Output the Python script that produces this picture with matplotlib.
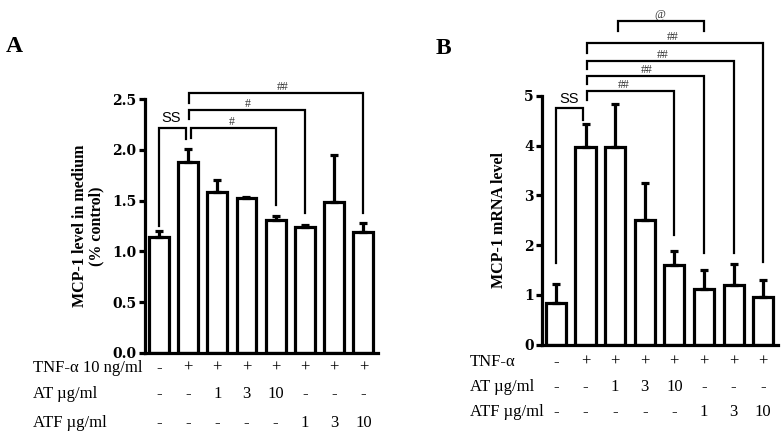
import numpy as np
import matplotlib as mpl
mpl.use("Agg")
from matplotlib import pyplot as plt
from matplotlib.transforms import blended_transform_factory

# 数据
mcp_protein = [1.14, 1.88, 1.58, 1.53, 1.31, 1.24, 1.49, 1.19]
mcp_protein_err = [0.06, 0.13, 0.12, 0.01, 0.04, 0.02, 0.46, 0.09]
mcp_mrna = [0.83, 3.98, 3.98, 2.51, 1.60, 1.11, 1.19, 0.96]
mcp_mrna_err = [0.39, 0.46, 0.86, 0.74, 0.29, 0.38, 0.43, 0.33]

tnf_row = ["-", "+", "+", "+", "+", "+", "+", "+"]
at_row = ["-", "-", "1", "3", "10", "-", "-", "-"]
atf_row = ["-", "-", "-", "-", "-", "1", "3", "10"]

# 显著性标记 (x1, x2, 顶部, 左腿底, 右腿底, 文本, 文本x)
marks_a = [
    (0, 0.92, 2.22, 1.25, 2.11, "SS", 0.41),
    (1.09, 4, 2.22, 2.12, 1.46, "#", 2.5),
    (1.02, 5, 2.39, 2.30, 1.38, "#", 3.06),
    (1.02, 7, 2.56, 2.46, 1.38, "##", 4.25),
]
marks_b = [
    (0, 0.92, 4.75, 1.64, 4.51, "SS", 0.44),
    (1.05, 4, 5.10, 4.91, 2.20, "##", 2.28),
    (1.05, 5, 5.41, 5.25, 1.84, "##", 3.06),
    (1.05, 6, 5.71, 5.55, 1.84, "##", 3.6),
    (1.05, 7, 6.06, 5.87, 1.67, "##", 3.95),
    (2.1, 5, 6.50, 6.31, 6.31, "@", 3.5),
]

SERIF = "Liberation Serif"
W, H = 782, 434


def panel(ax, vals, errs, marks, ymax, step, ylabel, ylab_size, pad):
    x = np.arange(len(vals))
    ax.bar(x, vals, width=0.68, color="white", edgecolor="black", linewidth=2.3, zorder=2)
    ax.errorbar(x, vals, yerr=[np.zeros(len(errs)), errs], fmt="none", ecolor="black",
                elinewidth=2.3, capsize=3.2, capthick=2.3, zorder=3)
    ax.set_xlim(-0.47, 7.5)
    ax.set_ylim(0, ymax)
    ticks = np.arange(0, ymax + step / 2, step)
    ax.set_yticks(ticks)
    if step < 1:
        ax.set_yticklabels(["%.1f" % v for v in ticks])
    ax.set_xticks([])
    for s in ["top", "right"]:
        ax.spines[s].set_visible(False)
    for s in ["left", "bottom"]:
        ax.spines[s].set_linewidth(2.3)
    ax.tick_params(axis="y", direction="out", length=4, width=2.3, pad=2)
    for t in ax.get_yticklabels():
        t.set_fontfamily("DejaVu Serif")
        t.set_fontweight("bold")
        t.set_fontsize(10)
    ax.set_ylabel(ylabel, fontfamily=SERIF, fontweight="bold", fontsize=ylab_size,
                  labelpad=pad, linespacing=1.0)
    for x1, x2, top, b1, b2, txt, tx in marks:
        ax.plot([x1, x1, x2, x2], [b1, top, top, b2], color="black", lw=1.6,
                clip_on=False, solid_joinstyle="miter", zorder=4)
        if txt == "SS":
            ax.text(tx, top + 0.01 * ymax, txt, ha="center", va="bottom", fontsize=10.5,
                    family="Liberation Sans", clip_on=False)
        else:
            ax.text(tx, top, txt, ha="center", va="bottom", fontsize=8.5,
                    family=SERIF, color="#333333", clip_on=False)


def rows(fig, ax, labels, ys, label_x, size):
    tr = blended_transform_factory(ax.transData, fig.transFigure)
    for (name, row), ypx in zip(labels, ys):
        yf = 1 - ypx / H
        fig.text(label_x / W, yf, name, ha="left", va="center", fontsize=size, family=SERIF)
        for i, v in enumerate(row):
            ax.text(i, yf, v, transform=tr, ha="center", va="center", fontsize=size,
                    family=SERIF, clip_on=False)


fig = plt.figure(figsize=(W / 100, H / 100), dpi=100)
axA = fig.add_axes([145 / W, 1 - 352.7 / H, 233 / W, 253.5 / H])
axB = fig.add_axes([542 / W, 1 - 344.5 / H, 236 / W, 248.5 / H])

panel(axA, mcp_protein, mcp_protein_err, marks_a, 2.5, 0.5,
      "MCP-1 level in medium\n(% control)", 11.5, 6)
panel(axB, mcp_mrna, mcp_mrna_err, marks_b, 5, 1, "MCP-1 mRNA level", 11.5, 12)

rows(fig, axA, [("TNF-\u03b1 10 ng/ml", tnf_row), ("AT \u00b5g/ml", at_row),
                ("ATF \u00b5g/ml", atf_row)], [368, 394, 423], 33, 12)
rows(fig, axB, [("TNF-\u03b1", tnf_row), ("AT \u00b5g/ml", at_row),
                ("ATF \u00b5g/ml", atf_row)], [362, 387, 412], 470, 12)

fig.text(6 / W, 1 - 46 / H, "A", fontsize=17, fontweight="bold", family=SERIF,
         ha="left", va="center")
fig.text(436 / W, 1 - 48 / H, "B", fontsize=17, fontweight="bold", family=SERIF,
         ha="left", va="center")

fig.savefig("out.png", dpi=100)
